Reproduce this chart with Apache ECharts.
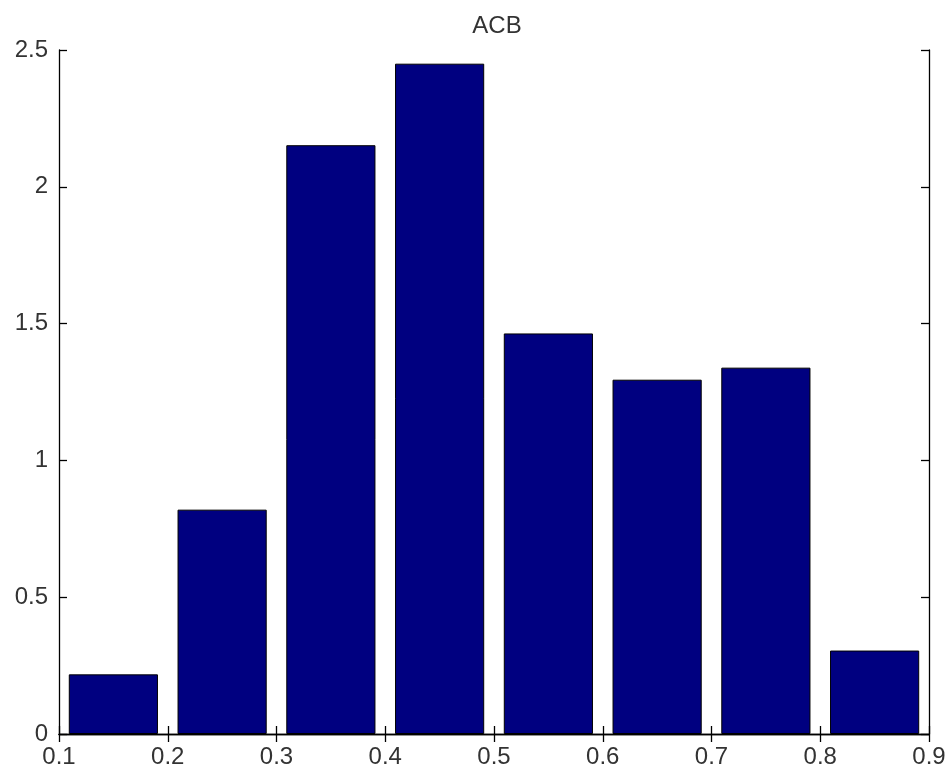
<!DOCTYPE html>
<html>
<head>
<meta charset="utf-8">
<title>ACB</title>
<script src="https://cdn.jsdelivr.net/npm/echarts@6/dist/echarts.min.js"></script>
<style>
  html, body { margin: 0; padding: 0; background: #fff; }
  #chart { width: 950px; height: 776px; }
</style>
</head>
<body>
<div id="chart"></div>
<script>
// Histogram bins (centres) and their heights
var binCenters = ['0.15', '0.25', '0.35', '0.45', '0.55', '0.65', '0.75', '0.85'];
var binValues = [0.218, 0.82, 2.152, 2.45, 1.464, 1.295, 1.339, 0.305];

// Axis ranges and tick steps
var xMin = 0.1, xMax = 0.9, xStep = 0.1;
var yMin = 0, yMax = 2.5, yStep = 0.5;

var labelFont = { fontFamily: 'Liberation Sans, Arial, sans-serif', fontSize: 24, color: '#333' };
var lineStyle = { color: '#000', width: 1.3 };

var chart = echarts.init(document.getElementById('chart'));
chart.setOption({
  backgroundColor: '#fff',
  animation: false,
  title: {
    text: 'ACB',
    left: 492,
    textAlign: 'center',
    top: 9,
    textStyle: { fontFamily: 'Liberation Sans, Arial, sans-serif', fontSize: 24, fontWeight: 'normal', color: '#333' }
  },
  grid: { left: 59, right: 21, top: 50, bottom: 42 },
  xAxis: [
    {
      type: 'value', position: 'bottom', min: xMin, max: xMax, interval: xStep,
      axisLine: { show: true, lineStyle: lineStyle },
      axisTick: { show: true, inside: true, length: 8, lineStyle: lineStyle },
      axisLabel: Object.assign({ margin: 11, formatter: function (v) { return (+v).toFixed(1); } }, labelFont),
      splitLine: { show: false }
    },
    {
      type: 'value', position: 'top', min: xMin, max: xMax, interval: xStep,
      axisLine: { show: true, lineStyle: lineStyle },
      axisTick: { show: true, inside: true, length: 8, lineStyle: lineStyle },
      axisLabel: { show: false },
      splitLine: { show: false }
    },
    {
      type: 'category', data: binCenters, show: false, boundaryGap: true
    }
  ],
  yAxis: [
    {
      type: 'value', position: 'left', min: yMin, max: yMax, interval: yStep,
      axisLine: { show: true, lineStyle: lineStyle },
      axisTick: { show: true, inside: true, length: 8, lineStyle: lineStyle },
      axisLabel: Object.assign({ margin: 11 }, labelFont),
      splitLine: { show: false }
    },
    {
      type: 'value', position: 'right', min: yMin, max: yMax, interval: yStep,
      axisLine: { show: true, lineStyle: lineStyle },
      axisTick: { show: true, inside: true, length: 8, lineStyle: lineStyle },
      axisLabel: { show: false },
      splitLine: { show: false }
    }
  ],
  series: [
    {
      type: 'bar',
      xAxisIndex: 2,
      yAxisIndex: 0,
      data: binValues,
      barCategoryGap: '18%',
      itemStyle: { color: '#000080', borderColor: '#000', borderWidth: 1 },
      z: 1
    }
  ]
});
</script>
</body>
</html>
